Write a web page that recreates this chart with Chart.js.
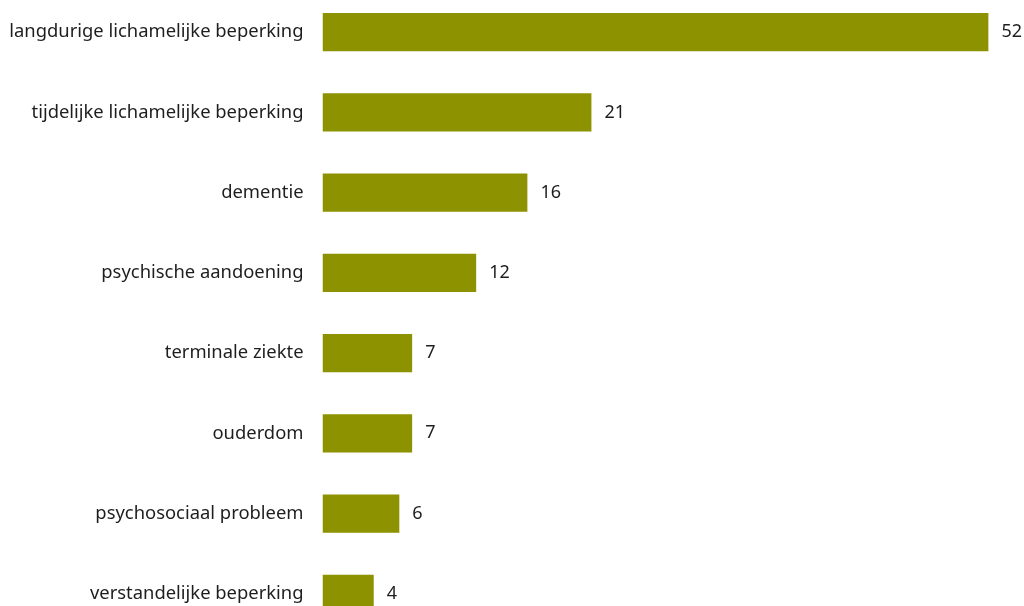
<!DOCTYPE html>
<html lang="nl">
<head>
<meta charset="utf-8">
<title>Beperkingen</title>
<script src="https://cdn.jsdelivr.net/npm/chart.js@4/dist/chart.umd.min.js"></script>
<style>
  html, body { margin: 0; padding: 0; background: #fff; overflow: hidden; }
  #beperkingChart { position: absolute; left: 0; top: -19.5px; }
</style>
</head>
<body>
<canvas id="beperkingChart" width="1024" height="664"></canvas>
<script>
const categories = [
  "langdurige lichamelijke beperking",
  "tijdelijke lichamelijke beperking",
  "dementie",
  "psychische aandoening",
  "terminale ziekte",
  "ouderdom",
  "psychosociaal probleem",
  "verstandelijke beperking"
];
const values = [52, 21, 16, 12, 7, 7, 6, 4];

const barColor = "#8d9200";
const textColor = "#1e1e1e";
const fontFamily = "'Noto Sans', 'Open Sans', sans-serif";

// value label just right of each bar
const valueLabels = {
  id: "valueLabels",
  afterDatasetsDraw(chart) {
    const ctx = chart.ctx;
    const meta = chart.getDatasetMeta(0);
    ctx.save();
    ctx.fillStyle = textColor;
    ctx.font = "18px " + fontFamily;
    ctx.textAlign = "left";
    ctx.textBaseline = "middle";
    meta.data.forEach((bar, i) => {
      ctx.fillText(String(values[i]), bar.x + 13, bar.y);
    });
    ctx.restore();
  }
};

document.addEventListener("DOMContentLoaded", () => {
  const ctx = document.getElementById("beperkingChart").getContext("2d");
  new Chart(ctx, {
    type: "bar",
    data: {
      labels: categories,
      datasets: [{
        data: values,
        backgroundColor: barColor,
        borderWidth: 0,
        barPercentage: 0.95,
        categoryPercentage: 0.5
      }]
    },
    options: {
      indexAxis: "y",
      responsive: false,
      animation: false,
      layout: { padding: { left: 0, right: 10, top: 0, bottom: 0 } },
      plugins: {
        legend: { display: false },
        tooltip: { enabled: false }
      },
      scales: {
        x: {
          min: 0,
          max: 54,
          display: false,
          grid: { display: false }
        },
        y: {
          // gap between label and bar comes from the (invisible) tick length,
          // so the tick padding does not push the plot area down
          grid: { display: false, drawTicks: true, tickLength: 19 },
          border: { display: false },
          afterFit(scale) { scale.width = 322.5; },
          ticks: {
            color: textColor,
            padding: 0,
            font: { family: fontFamily, size: 18.4 }
          }
        }
      }
    },
    plugins: [valueLabels]
  });
});
</script>
</body>
</html>
